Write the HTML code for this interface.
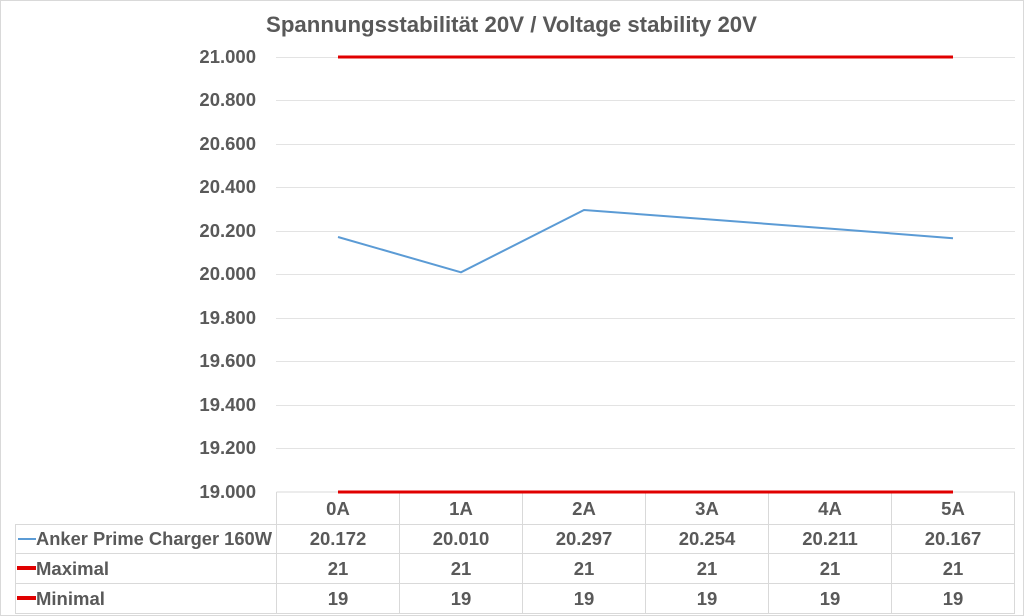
<!DOCTYPE html>
<html><head><meta charset="utf-8"><style>
html,body{margin:0;padding:0;background:#fff;}
svg{display:block;font-family:"Liberation Sans",sans-serif;font-weight:bold;fill:#595959;}
</style></head><body>
<svg width="1024" height="616" viewBox="0 0 1024 616" xmlns="http://www.w3.org/2000/svg">
<rect x="0.5" y="0.5" width="1023" height="615" fill="#fff" stroke="#d9d9d9"/>
<text x="266" y="32" font-size="22" textLength="491" lengthAdjust="spacingAndGlyphs">Spannungsstabilität 20V / Voltage stability 20V</text>
<g stroke="#e3e3e3" stroke-width="1">
<line x1="276" y1="57.5" x2="1015" y2="57.5"/>
<line x1="276" y1="100.5" x2="1015" y2="100.5"/>
<line x1="276" y1="144.5" x2="1015" y2="144.5"/>
<line x1="276" y1="187.5" x2="1015" y2="187.5"/>
<line x1="276" y1="231.5" x2="1015" y2="231.5"/>
<line x1="276" y1="274.5" x2="1015" y2="274.5"/>
<line x1="276" y1="318.5" x2="1015" y2="318.5"/>
<line x1="276" y1="361.5" x2="1015" y2="361.5"/>
<line x1="276" y1="405.5" x2="1015" y2="405.5"/>
<line x1="276" y1="448.5" x2="1015" y2="448.5"/>
</g>
<g font-size="18.5" text-anchor="end">
<text x="256" y="63">21.000</text>
<text x="256" y="106">20.800</text>
<text x="256" y="150">20.600</text>
<text x="256" y="193">20.400</text>
<text x="256" y="237">20.200</text>
<text x="256" y="280">20.000</text>
<text x="256" y="324">19.800</text>
<text x="256" y="367">19.600</text>
<text x="256" y="411">19.400</text>
<text x="256" y="454">19.200</text>
<text x="256" y="498">19.000</text>
</g>
<g stroke="#d9d9d9" stroke-width="1" fill="none">
<line x1="276.5" y1="492" x2="1015" y2="492"/>
<line x1="15" y1="524.5" x2="1015" y2="524.5"/>
<line x1="15" y1="553.5" x2="1015" y2="553.5"/>
<line x1="15" y1="583.5" x2="1015" y2="583.5"/>
<line x1="15" y1="613.5" x2="1015" y2="613.5"/>
<line x1="15.5" y1="524" x2="15.5" y2="614"/>
<line x1="276.5" y1="492" x2="276.5" y2="614"/>
<line x1="399.5" y1="492" x2="399.5" y2="614"/>
<line x1="522.5" y1="492" x2="522.5" y2="614"/>
<line x1="645.5" y1="492" x2="645.5" y2="614"/>
<line x1="768.5" y1="492" x2="768.5" y2="614"/>
<line x1="891.5" y1="492" x2="891.5" y2="614"/>
<line x1="1014.5" y1="492" x2="1014.5" y2="614"/>
</g>
<polyline points="338,237 461,272.3 584,210 707,219.3 830,228.6 953,238.2" fill="none" stroke="#5b9bd5" stroke-width="2"/>
<line x1="338" y1="57" x2="953" y2="57" stroke="#e00000" stroke-width="3"/>
<line x1="338" y1="492" x2="953" y2="492" stroke="#e00000" stroke-width="3"/>
<g font-size="18.5" text-anchor="middle">
<text x="338" y="515">0A</text><text x="461" y="515">1A</text><text x="584" y="515">2A</text><text x="707" y="515">3A</text><text x="830" y="515">4A</text><text x="953" y="515">5A</text>
<text x="338" y="545">20.172</text><text x="461" y="545">20.010</text><text x="584" y="545">20.297</text><text x="707" y="545">20.254</text><text x="830" y="545">20.211</text><text x="953" y="545">20.167</text>
<text x="338" y="575">21</text><text x="461" y="575">21</text><text x="584" y="575">21</text><text x="707" y="575">21</text><text x="830" y="575">21</text><text x="953" y="575">21</text>
<text x="338" y="605">19</text><text x="461" y="605">19</text><text x="584" y="605">19</text><text x="707" y="605">19</text><text x="830" y="605">19</text><text x="953" y="605">19</text>
</g>
<line x1="18" y1="539" x2="36" y2="539" stroke="#5b9bd5" stroke-width="2"/>
<line x1="17" y1="568" x2="36" y2="568" stroke="#e00000" stroke-width="4"/>
<line x1="17" y1="598" x2="36" y2="598" stroke="#e00000" stroke-width="4"/>
<g font-size="18.5">
<text x="36" y="545" textLength="236" lengthAdjust="spacingAndGlyphs">Anker Prime Charger 160W</text>
<text x="36" y="575">Maximal</text>
<text x="36" y="605">Minimal</text>
</g>
</svg>
</body></html>
